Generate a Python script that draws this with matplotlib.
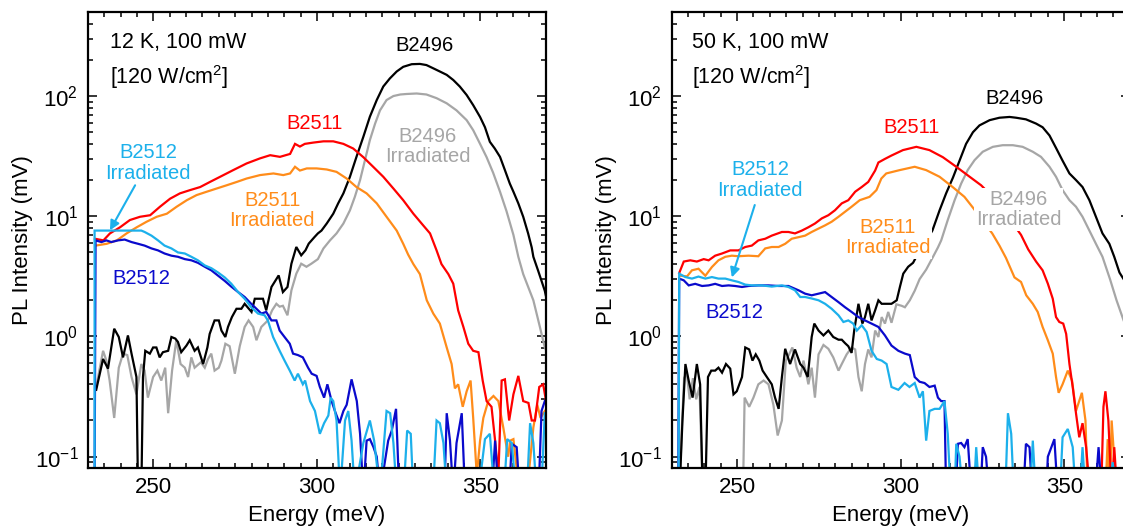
import matplotlib
matplotlib.use("Agg")
import matplotlib.pyplot as plt
from matplotlib.ticker import MultipleLocator, LogLocator

# ---------------- DATA ----------------
# 12 K panel
e_b2496_12 = [232.5, 234.6, 236.1, 238.0, 239.4, 240.7, 242.2, 243.3, 244.8, 245.3, 246.3, 246.8, 247.5, 248.9,
              249.9, 250.9, 251.9, 252.9, 254.5, 255.5, 256.7, 257.5, 258.5, 260.1, 261.1, 262.6, 263.6, 265.2,
              266.5, 267.2, 268.7, 270.0, 270.8, 272.0, 272.8, 274.0, 275.4, 276.9, 277.9, 280.0, 281.0, 283.5,
              284.5, 286.1, 288.3, 289.6, 291.0, 292.2, 293.7, 295.2, 296.5, 297.5, 299.3, 300.3, 301.4, 303.0,
              305.0, 306.5, 308.1, 310.1, 312.1, 314.2, 316.2, 318.3, 320.3, 322.3, 324.4, 326.4, 329.0, 331.5,
              333.5, 335.6, 337.6, 339.7, 341.7, 343.7, 345.8, 347.8, 349.9, 351.4, 352.9, 354.4, 356.0, 357.5,
              359.0, 360.1, 361.6, 363.1, 364.6, 365.7, 366.2, 367.7, 369.7, 370.0]
i_b2496_12 = [0.36, 0.65, 0.54, 1.16, 0.99, 0.67, 1.02, 0.72, 0.46, 0.05, 0.05, 0.46, 0.76, 0.72,
              0.81, 0.81, 0.67, 0.74, 0.76, 0.99, 0.96, 0.90, 0.74, 0.84, 0.93, 0.76, 0.81, 0.59,
              0.81, 1.05, 1.36, 1.36, 1.12, 0.99, 1.20, 1.45, 1.70, 1.70, 1.87, 1.60, 2.06, 2.06,
              1.65, 2.58, 3.22, 2.34, 2.58, 4.03, 5.55, 4.73, 5.21, 5.92, 6.73, 7.2, 7.6, 8.7,
              10.5, 12.8, 15.5, 21.3, 31.2, 45.8, 67.3, 92.6, 120, 140, 160, 175, 184, 185,
              181, 170, 160, 150, 136, 120, 102, 84, 67, 55, 41.6, 36.6, 31.2, 24.2,
              18.7, 16, 12.8, 9.9, 7.2, 5.5, 4.6, 3.5, 2.4, 2.2]

e_b2496i_12 = [232.5, 234.6, 235.6, 236.6, 238.0, 239.4, 240.7, 242.0, 243.3, 244.8, 246.3, 247.3, 248.3, 249.9,
               251.2, 252.4, 253.6, 254.5, 255.7, 257.0, 258.3, 259.6, 260.6, 261.6, 262.6, 264.5, 265.7, 266.7,
               267.7, 268.7, 270.0, 270.8, 272.0, 273.3, 274.9, 276.4, 277.9, 279.1, 280.5, 281.5, 283.0, 285.0,
               286.3, 287.6, 288.6, 289.6, 291.0, 292.2, 293.7, 295.2, 296.8, 298.3, 300.3, 302.0, 304.0, 306.0,
               308.1, 310.1, 311.6, 313.2, 314.7, 316.2, 317.8, 319.3, 321.3, 323.4, 325.5, 327.4, 330.5, 333.5,
               336.6, 339.7, 342.7, 345.8, 347.8, 349.9, 351.9, 353.9, 356.0, 358.0, 360.1, 361.6, 363.1, 366.2,
               368.2, 369.7, 370.0]
i_b2496i_12 = [0.38, 0.76, 0.63, 0.43, 0.21, 0.55, 0.72, 0.70, 0.46, 0.33, 0.59, 0.52, 0.31, 0.46,
               0.52, 0.43, 0.55, 0.23, 0.52, 0.93, 0.59, 0.55, 0.46, 0.67, 0.55, 0.61, 0.55, 0.65,
               0.72, 0.52, 0.55, 0.63, 0.87, 0.83, 0.49, 0.83, 1.2, 1.36, 1.2, 0.93, 1.2, 1.36,
               1.65, 1.87, 1.77, 1.8, 1.5, 2.42, 3.33, 4.03, 3.8, 4.03, 4.4, 5.4, 6.3, 7.2,
               8.7, 11.2, 14.5, 20, 29.3, 43, 59, 76, 92.6, 100, 103, 104, 105, 103,
               96, 87, 76, 63, 52, 40, 31, 23, 16, 11, 7, 4.6, 3.3, 2.0,
               1.2, 0.81, 0.78]

e_b2511_12 = [232.1, 234.7, 236.7, 239.8, 242.8, 245.9, 249.0, 252.0, 255.1, 258.1, 261.2, 264.3, 267.3, 270.4,
              274.4, 278.5, 282.6, 285.7, 288.7, 291.8, 293.3, 294.8, 296.3, 298.9, 302.0, 305.0, 308.1, 311.1,
              314.2, 317.2, 320.3, 323.4, 326.4, 329.5, 332.5, 334.6, 336.6, 338.1, 340.2, 341.7, 343.2, 344.8,
              346.3, 347.8, 349.4, 350.7, 351.9, 353.4, 354.5, 355.5, 356.5, 357.5, 358.8, 360.1, 361.6, 363.1,
              364.7, 365.7, 366.7, 368.0, 369.2, 370.0]
i_b2511_12 = [6.5, 6.3, 7.2, 8.1, 9.3, 9.9, 10.2, 12, 14, 15.5, 16.5, 17.5, 19.3, 21.3,
              24.2, 27.5, 30.3, 32.2, 31.2, 33, 40, 38, 40, 41, 42, 42, 40, 36.6,
              31, 25.8, 21.3, 17, 13.6, 10.5, 8.4, 7.2, 5.2, 4.0, 3.3, 2.75, 1.65, 1.2,
              0.87, 0.76, 0.74, 0.43, 0.29, 0.26, 0.136, 0.07, 0.43, 0.44, 0.2, 0.33, 0.47, 0.29,
              0.28, 0.2, 0.2, 0.38, 0.4, 0.3]

e_b2511i_12 = [232.3, 235.7, 238.8, 241.8, 244.9, 247.9, 251.0, 254.1, 257.1, 260.2, 263.2, 266.3, 269.3, 272.4,
               275.5, 278.5, 282.6, 286.7, 289.7, 291.8, 293.3, 294.8, 296.9, 299.9, 303.0, 306.0, 309.1, 312.1,
               315.2, 318.3, 321.3, 324.4, 326.4, 327.9, 329.5, 331.5, 333.6, 335.6, 337.6, 339.7, 341.2, 342.2,
               343.2, 344.6, 345.8, 347.0, 347.8, 348.9, 349.9, 350.9, 352.4, 354.0, 355.5, 357.0, 358.5, 359.1,
               360.1, 361.6, 364.5, 366.2, 367.4, 368.4, 369.7]
i_b2511i_12 = [5.7, 5.9, 6.3, 7.2, 8.1, 9.0, 9.9, 10.5, 12, 13.6, 15, 16, 17, 18.1,
               19.3, 20.6, 22, 22.7, 22, 22.7, 25.8, 24, 25, 25, 24.5, 23.4, 20.6, 17.5,
               15.5, 12.8, 9.9, 7.6, 5.9, 4.8, 4.0, 3.3, 2.0, 1.55, 1.28, 0.81, 0.59, 0.37,
               0.4, 0.26, 0.35, 0.43, 0.21, 0.07, 0.136, 0.21, 0.29, 0.32, 0.29, 0.175, 0.1, 0.136,
               0.14, 0.06, 0.06, 0.175, 0.27, 0.21, 0.24]

e_b2512_12 = [232.0, 232.3, 234.1, 235.6, 237.1, 239.2, 241.2, 243.3, 245.3, 247.3, 249.4, 251.4, 253.4, 255.5,
              257.5, 259.6, 261.6, 263.6, 265.7, 267.7, 269.8, 271.8, 273.8, 275.9, 277.9, 279.9, 281.5, 283.0,
              284.5, 286.1, 287.6, 288.6, 290.1, 291.7, 292.7, 294.2, 295.7, 297.3, 298.4, 299.9, 300.9, 302.2,
              303.2, 304.5, 305.5, 306.9, 308.1, 309.1, 310.6, 312.2, 313.2, 314.2, 315.2, 316.2, 317.3, 318.3,
              319.3, 321.8, 322.9, 324.2, 325.2, 339.0, 339.7, 340.7, 341.7, 342.7, 344.3, 345.3, 353.5, 354.5,
              355.5, 358.8, 359.6, 361.1, 362.0, 367.8, 368.7, 369.7]
i_b2512_12 = [0.05, 6.3, 6.1, 6.3, 6.1, 6.3, 6.4, 6.1, 5.9, 5.7, 5.4, 5.2, 4.9, 4.7,
              4.6, 4.4, 4.3, 4.1, 3.8, 3.55, 3.2, 2.9, 2.6, 2.34, 2.13, 1.87, 1.7, 1.55,
              1.6, 1.36, 1.36, 1.12, 0.99, 0.87, 0.72, 0.70, 0.67, 0.55, 0.49, 0.47, 0.38, 0.31,
              0.40, 0.29, 0.24, 0.19, 0.24, 0.27, 0.44, 0.29, 0.155, 0.05, 0.136, 0.14, 0.12, 0.1,
              0.05, 0.136, 0.165, 0.25, 0.05, 0.05, 0.23, 0.136, 0.05, 0.13, 0.23, 0.05, 0.05, 0.136,
              0.05, 0.05, 0.128, 0.12, 0.05, 0.05, 0.24, 0.29]

e_b2512i_12 = [232.0, 232.0, 246.3, 247.3, 249.4, 251.4, 253.4, 255.5, 257.5, 259.6, 261.6, 263.6, 265.7, 267.7,
               269.8, 271.8, 273.8, 275.9, 277.9, 279.9, 282.0, 284.0, 285.0, 286.6, 288.6, 290.1, 291.7, 293.2,
               294.2, 295.7, 296.4, 297.9, 299.4, 300.9, 302.2, 303.5, 304.2, 305.0, 306.0, 307.1, 308.6, 309.6,
               310.6, 311.6, 314.2, 316.2, 317.5, 319.3, 321.3, 322.4, 323.4, 324.4, 326.5, 327.6, 328.7, 329.5,
               335.5, 336.6, 337.6, 338.7, 339.7, 349.4, 351.4, 352.9, 354.3, 357.2, 358.2, 359.6, 360.9, 364.2,
               365.2, 366.2, 367.2, 368.6, 369.7]
i_b2512i_12 = [0.05, 7.6, 7.6, 7.4, 6.9, 6.3, 5.7, 5.4, 5.0, 4.9, 4.6, 4.3, 3.9, 3.7,
               3.4, 3.1, 2.75, 2.34, 2.06, 1.75, 1.55, 1.5, 1.36, 0.99, 0.76, 0.63, 0.52, 0.43,
               0.49, 0.40, 0.43, 0.29, 0.24, 0.155, 0.19, 0.22, 0.31, 0.29, 0.2, 0.05, 0.2, 0.24,
               0.136, 0.05, 0.13, 0.2, 0.136, 0.05, 0.24, 0.23, 0.13, 0.05, 0.05, 0.165, 0.155, 0.05,
               0.05, 0.2, 0.19, 0.13, 0.05, 0.05, 0.14, 0.155, 0.05, 0.05, 0.14, 0.13, 0.05, 0.05,
               0.19, 0.13, 0.05, 0.05, 0.23]

# 50 K panel
e_b2496_50 = [232.5, 233.3, 234.2, 235.2, 236.4, 237.7, 238.7, 239.5, 240.3, 241.1, 242.1, 243.3, 244.3, 245.4,
              246.6, 247.9, 248.9, 249.9, 251.5, 252.5, 253.7, 254.7, 255.7, 256.8, 257.8, 259.1, 260.6, 261.6,
              262.7, 263.7, 264.7, 266.2, 267.7, 269.3, 270.3, 271.6, 272.8, 273.6, 274.9, 276.4, 277.9, 279.4,
              281.0, 282.0, 283.0, 284.0, 285.0, 285.8, 287.1, 288.3, 289.1, 290.1, 291.1, 292.2, 293.2, 294.2,
              295.7, 297.2, 298.8, 299.8, 300.8, 302.3, 303.8, 305.5, 307.7, 309.7, 311.9, 313.9, 316.0, 318.0,
              320.0, 322.1, 324.1, 327.2, 330.2, 333.3, 335.3, 338.3, 341.4, 343.4, 345.5, 347.5, 349.5, 351.6,
              353.6, 355.6, 357.7, 359.7, 361.7, 363.8, 365.3, 366.9, 368.5, 370.0]
i_b2496_50 = [0.06, 0.2, 0.59, 0.43, 0.31, 0.59, 0.40, 0.05, 0.05, 0.46, 0.52, 0.52, 0.55, 0.5,
              0.59, 0.54, 0.33, 0.35, 0.46, 0.81, 0.78, 0.63, 0.71, 0.63, 0.52, 0.46, 0.40, 0.31,
              0.25, 0.46, 0.79, 0.59, 0.78, 0.59, 0.55, 0.46, 0.99, 1.28, 1.12, 1.02, 1.12, 0.99,
              0.94, 0.94, 0.88, 0.83, 0.73, 1.12, 1.87, 1.28, 1.45, 1.87, 1.36, 1.65, 2.0, 1.87,
              1.87, 1.87, 2.0, 2.6, 3.33, 3.8, 4.1, 5.0, 6.2, 7.6, 11.2, 15.5, 21, 29,
              40, 50, 57, 63, 66, 67, 66, 64, 59, 55, 47, 37, 29, 22.7,
              20, 17.5, 13.6, 9.9, 7.2, 5.9, 4.6, 3.4, 2.9, 2.5]

e_b2496i_50 = [232.5, 233.0, 233.8, 234.6, 235.5, 236.5, 237.5, 238.5, 239.5, 251.8, 252.3, 253.7, 255.0, 256.5,
               258.1, 259.6, 261.1, 262.4, 263.7, 264.9, 265.9, 266.9, 268.2, 269.3, 270.3, 271.8, 272.8, 273.8,
               274.9, 276.4, 277.9, 279.4, 281.0, 282.0, 283.5, 285.0, 286.1, 287.1, 288.1, 289.1, 290.1, 291.1,
               292.2, 293.2, 294.2, 295.2, 296.2, 297.2, 298.7, 300.3, 301.3, 302.8, 304.3, 305.8, 307.8, 309.9,
               311.4, 312.4, 314.4, 316.5, 318.5, 320.5, 322.6, 325.1, 328.2, 331.2, 334.3, 337.3, 340.4, 342.9,
               345.5, 347.5, 349.5, 351.6, 353.6, 355.6, 357.7, 359.7, 361.7, 364.0, 366.0, 368.0, 370.0]
i_b2496i_50 = [0.06, 0.15, 0.45, 0.5, 0.3, 0.45, 0.3, 0.38, 0.05, 0.05, 0.31, 0.26, 0.31, 0.4,
               0.43, 0.4, 0.27, 0.15, 0.2, 0.63, 0.71, 0.81, 0.55, 0.46, 0.63, 0.4, 0.55, 0.31,
               0.71, 0.85, 0.79, 0.67, 0.52, 0.59, 0.71, 0.81, 0.78, 0.46, 0.35, 0.59, 0.78, 0.67,
               1.12, 0.99, 1.45, 1.28, 1.6, 1.3, 1.85, 1.8, 1.75, 2.0, 2.4, 3.0, 3.6, 4.6,
               5.5, 6.3, 9.3, 13.6, 18.7, 24.2, 29.3, 34.4, 37.8, 39, 39, 37.8, 34.4, 31.2,
               25.8, 21.3, 16.5, 13.6, 12, 9.9, 7.6, 5.9, 4.6, 3.0, 2.0, 1.4, 1.0]

e_b2511_50 = [232.3, 233.7, 235.7, 237.7, 239.8, 241.3, 243.3, 245.4, 247.9, 250.4, 252.5, 254.5, 256.5, 258.6,
              260.6, 263.7, 265.7, 267.7, 269.8, 271.8, 273.8, 275.9, 277.9, 279.9, 282.0, 284.0, 286.1, 288.1,
              290.1, 292.2, 293.2, 295.2, 297.2, 300.7, 304.8, 308.8, 312.9, 317.0, 321.1, 324.6, 328.7, 332.7,
              336.8, 339.0, 341.4, 343.4, 345.0, 346.5, 347.5, 348.5, 349.7, 350.6, 351.6, 352.6, 353.6, 354.6,
              355.6, 356.7, 357.9, 361.3, 362.0, 362.6, 363.5, 364.5, 365.3, 366.2, 370.0]
i_b2511_50 = [3.37, 4.2, 4.3, 4.2, 4.4, 4.3, 4.7, 4.9, 5.2, 5.2, 5.55, 5.7, 6.3, 6.5,
              6.9, 7.4, 7.4, 7.2, 7.6, 8.1, 8.7, 9.6, 10.2, 11.2, 12.8, 13.6, 16, 17.5,
              19.3, 24, 28, 30, 32, 35.5, 37.8, 35.5, 31, 25.8, 21.3, 18.1, 14, 10,
              7.0, 5.3, 4.2, 3.55, 2.75, 2.06, 1.45, 1.32, 1.28, 1.05, 0.59, 0.38, 0.23, 0.145,
              0.19, 0.12, 0.05, 0.05, 0.26, 0.35, 0.2, 0.05, 0.12, 0.05, 0.05]

e_b2511i_50 = [232.6, 234.7, 236.2, 238.2, 240.3, 242.3, 244.3, 246.4, 248.4, 250.4, 253.5, 256.5, 258.6, 260.6,
               262.7, 264.7, 266.7, 268.8, 270.8, 272.8, 274.9, 276.9, 278.9, 281.0, 283.0, 285.0, 287.5, 290.5,
               292.6, 294.1, 295.6, 299.7, 304.3, 307.8, 311.9, 315.9, 319.5, 322.3, 325.0, 328.0, 330.2, 332.2,
               334.8, 336.8, 338.4, 340.4, 341.9, 343.4, 345.0, 346.5, 347.5, 348.3, 349.5, 351.1, 352.4, 353.6,
               355.4, 356.5, 357.2, 362.6, 363.3, 364.0, 364.5, 365.5, 370.0]
i_b2511i_50 = [3.2, 3.16, 3.55, 3.66, 3.2, 3.78, 4.3, 4.6, 4.7, 4.65, 4.7, 4.65, 5.4, 5.55,
               5.55, 5.9, 6.5, 6.7, 6.9, 7.4, 7.9, 8.4, 9.0, 9.9, 10.9, 12, 13.6, 14.5,
               16.5, 20.6, 22.7, 24.2, 25.8, 24.2, 21.3, 17.5, 14.5, 11.6, 9.2, 7.2, 5.7, 4.5,
               3.1, 2.84, 2.2, 1.87, 1.6, 1.2, 0.93, 0.72, 0.46, 0.34, 0.40, 0.52, 0.43, 0.24,
               0.34, 0.2, 0.05, 0.05, 0.14, 0.05, 0.2, 0.08, 0.05]

e_b2512_50 = [232.0, 232.3, 233.7, 235.2, 237.2, 239.3, 241.3, 243.3, 245.4, 247.4, 249.4, 251.5, 253.5, 256.6,
              259.6, 262.7, 265.7, 268.8, 270.8, 272.8, 274.9, 276.9, 278.9, 281.0, 283.0, 285.0, 287.1, 289.1,
              291.1, 293.2, 295.2, 297.2, 299.3, 301.3, 302.8, 304.3, 305.8, 307.3, 308.8, 310.4, 311.4, 312.4,
              313.4, 313.9, 316.8, 317.5, 318.5, 319.5, 320.5, 321.6, 324.4, 325.1, 326.1, 327.0, 337.5, 338.3,
              339.4, 340.2, 344.5, 345.0, 347.0, 348.0, 359.5, 360.5, 361.5, 370.0]
i_b2512_50 = [0.05, 3.03, 2.93, 2.66, 2.74, 2.63, 2.66, 2.74, 2.63, 2.66, 2.63, 2.58, 2.63, 2.66,
              2.66, 2.63, 2.63, 2.42, 2.27, 2.2, 2.27, 2.34, 2.13, 1.93, 1.75, 1.6, 1.45, 1.36,
              1.28, 1.2, 1.02, 0.84, 0.76, 0.72, 0.70, 0.46, 0.42, 0.41, 0.38, 0.39, 0.31, 0.29,
              0.29, 0.05, 0.05, 0.128, 0.13, 0.12, 0.14, 0.05, 0.05, 0.12, 0.1, 0.05, 0.05, 0.128,
              0.12, 0.05, 0.05, 0.1, 0.14, 0.05, 0.05, 0.12, 0.05, 0.05]

e_b2512i_50 = [232.1, 232.3, 234.2, 236.2, 238.2, 240.3, 242.3, 244.3, 246.4, 248.4, 250.4, 252.5, 254.5, 257.6,
               260.6, 263.7, 265.7, 267.7, 269.3, 270.8, 272.8, 274.9, 276.9, 278.9, 281.0, 282.5, 284.0, 285.5,
               286.6, 288.1, 289.6, 291.1, 292.7, 294.2, 295.7, 297.2, 299.3, 301.2, 302.7, 304.3, 305.8, 306.8,
               307.8, 308.8, 310.4, 311.9, 313.4, 314.4, 315.3, 316.5, 317.0, 318.0, 319.0, 322.4, 323.1, 324.0,
               332.0, 332.8, 333.8, 334.6, 339.6, 340.4, 341.3, 348.7, 349.5, 351.1, 352.6, 353.5, 354.8, 355.6,
               356.5, 364.0, 364.8, 366.0, 370.0]
i_b2512i_50 = [0.05, 3.33, 3.12, 3.03, 3.15, 3.03, 3.12, 3.03, 3.03, 2.93, 2.84, 2.7, 2.66, 2.66,
               2.6, 2.66, 2.58, 2.42, 2.13, 2.13, 2.07, 2.0, 1.87, 1.7, 1.5, 1.32, 1.36, 1.28,
               1.12, 1.24, 1.09, 0.76, 0.65, 0.63, 0.59, 0.38, 0.36, 0.41, 0.38, 0.41, 0.31, 0.35,
               0.136, 0.24, 0.25, 0.25, 0.29, 0.155, 0.05, 0.05, 0.128, 0.1, 0.05, 0.05, 0.12, 0.05,
               0.05, 0.23, 0.155, 0.05, 0.05, 0.136, 0.05, 0.05, 0.145, 0.17, 0.12, 0.05, 0.05, 0.12,
               0.05, 0.05, 0.09, 0.05, 0.05]

# ---------------- STYLE ----------------
plt.rcParams['font.family'] = ['Liberation Sans', 'DejaVu Sans']
plt.rcParams['mathtext.fontset'] = 'custom'
plt.rcParams['mathtext.rm'] = 'Liberation Sans'
plt.rcParams['mathtext.it'] = 'Liberation Sans:italic'
plt.rcParams['mathtext.bf'] = 'Liberation Sans:bold'
plt.rcParams['mathtext.default'] = 'regular'

C_BLACK = '#000000'
C_GRAY = '#a6a6a6'
C_RED = '#ff0000'
C_ORANGE = '#ff8c1a'
C_BLUE = '#0a0acc'
C_CYAN = '#1cb0eb'
LW = 1.6
FS_LAB = 14.5   # sample labels
FS_COND = 15.5  # "12 K, 100 mW" etc.


def setup_axes(ax):
    ax.set_yscale('log')
    ax.set_xlim(230, 370)
    ax.set_ylim(0.081, 500)
    ax.xaxis.set_major_locator(MultipleLocator(50))
    ax.xaxis.set_minor_locator(MultipleLocator(5))
    ax.yaxis.set_major_locator(LogLocator(base=10, numticks=10))
    ax.yaxis.set_minor_locator(LogLocator(base=10, subs=range(2, 10), numticks=20))
    ax.tick_params(which='both', direction='in', top=True, right=True, labelsize=16, width=1.1)
    ax.tick_params(which='major', length=6.5, pad=7)
    ax.tick_params(which='minor', length=3.5)
    for sp in ax.spines.values():
        sp.set_linewidth(1.6)
    ax.set_xlabel('Energy (meV)', fontsize=16, labelpad=5)
    ax.set_ylabel('PL Intensity (mV)', fontsize=16, labelpad=1)


def draw_curves(ax, series):
    for e, i, c in series:
        ax.plot(e, i, color=c, lw=LW, solid_joinstyle='miter')


fig = plt.figure(figsize=(11.23, 5.29), dpi=100)
ax1 = fig.add_axes([0.0784, 0.1159, 0.4076, 0.8614])
ax2 = fig.add_axes([0.5981, 0.1159, 0.4078, 0.8614])

# ---- 12 K ----
setup_axes(ax1)
draw_curves(ax1, [(e_b2496i_12, i_b2496i_12, C_GRAY),
                  (e_b2496_12, i_b2496_12, C_BLACK),
                  (e_b2511i_12, i_b2511i_12, C_ORANGE),
                  (e_b2511_12, i_b2511_12, C_RED),
                  (e_b2512_12, i_b2512_12, C_BLUE),
                  (e_b2512i_12, i_b2512i_12, C_CYAN)])
ax1.text(236.7, 278, '12 K, 100 mW', fontsize=FS_COND, ha='left', va='center')
ax1.text(236.7, 144, '[120 W/cm$^2$]', fontsize=FS_COND, ha='left', va='center')
ax1.text(332.8, 261, 'B2496', color=C_BLACK, fontsize=FS_LAB, ha='center', va='center')
ax1.text(299.4, 59.6, 'B2511', color=C_RED, fontsize=FS_LAB, ha='center', va='center')
ax1.text(333.8, 38, 'B2496\nIrradiated', color=C_GRAY, fontsize=FS_LAB, ha='center', va='center', linespacing=1.1)
ax1.text(248.3, 27.7, 'B2512\nIrradiated', color=C_CYAN, fontsize=FS_LAB, ha='center', va='center', linespacing=1.1)
ax1.text(286.3, 11.2, 'B2511\nIrradiated', color=C_ORANGE, fontsize=FS_LAB, ha='center', va='center', linespacing=1.1)
ax1.text(246.4, 3.04, 'B2512', color=C_BLUE, fontsize=FS_LAB, ha='center', va='center')
ax1.annotate('', xy=(236.7, 7.64), xytext=(244.4, 18.1),
             arrowprops=dict(arrowstyle='-|>', color=C_CYAN, lw=1.5, mutation_scale=14, shrinkA=0, shrinkB=0))

# ---- 50 K ----
setup_axes(ax2)
draw_curves(ax2, [(e_b2496i_50, i_b2496i_50, C_GRAY),
                  (e_b2496_50, i_b2496_50, C_BLACK),
                  (e_b2511i_50, i_b2511i_50, C_ORANGE),
                  (e_b2511_50, i_b2511_50, C_RED),
                  (e_b2512_50, i_b2512_50, C_BLUE),
                  (e_b2512i_50, i_b2512i_50, C_CYAN)])
white = dict(facecolor='white', edgecolor='none', pad=1.5)
ax2.text(236.2, 278, '50 K, 100 mW', fontsize=FS_COND, ha='left', va='center')
ax2.text(236.2, 144, '[120 W/cm$^2$]', fontsize=FS_COND, ha='left', va='center')
ax2.text(334.8, 96, 'B2496', color=C_BLACK, fontsize=FS_LAB, ha='center', va='center')
ax2.text(303.4, 55, 'B2511', color=C_RED, fontsize=FS_LAB, ha='center', va='center')
ax2.text(336.0, 11.4, 'B2496\nIrradiated', color=C_GRAY, fontsize=FS_LAB, ha='center', va='center',
         linespacing=1.1, bbox=white, zorder=5)
ax2.text(296.0, 6.68, 'B2511\nIrradiated', color=C_ORANGE, fontsize=FS_LAB, ha='center', va='center',
         linespacing=1.1, bbox=white, zorder=5)
ax2.text(257.0, 20, 'B2512\nIrradiated', color=C_CYAN, fontsize=FS_LAB, ha='center', va='center', linespacing=1.1)
ax2.text(249.3, 1.58, 'B2512', color=C_BLUE, fontsize=FS_LAB, ha='center', va='center')
ax2.annotate('', xy=(248.4, 3.1), xytext=(255.4, 12.4),
             arrowprops=dict(arrowstyle='-|>', color=C_CYAN, lw=1.5, mutation_scale=14, shrinkA=0, shrinkB=0))

fig.savefig('out.png', dpi=100)
